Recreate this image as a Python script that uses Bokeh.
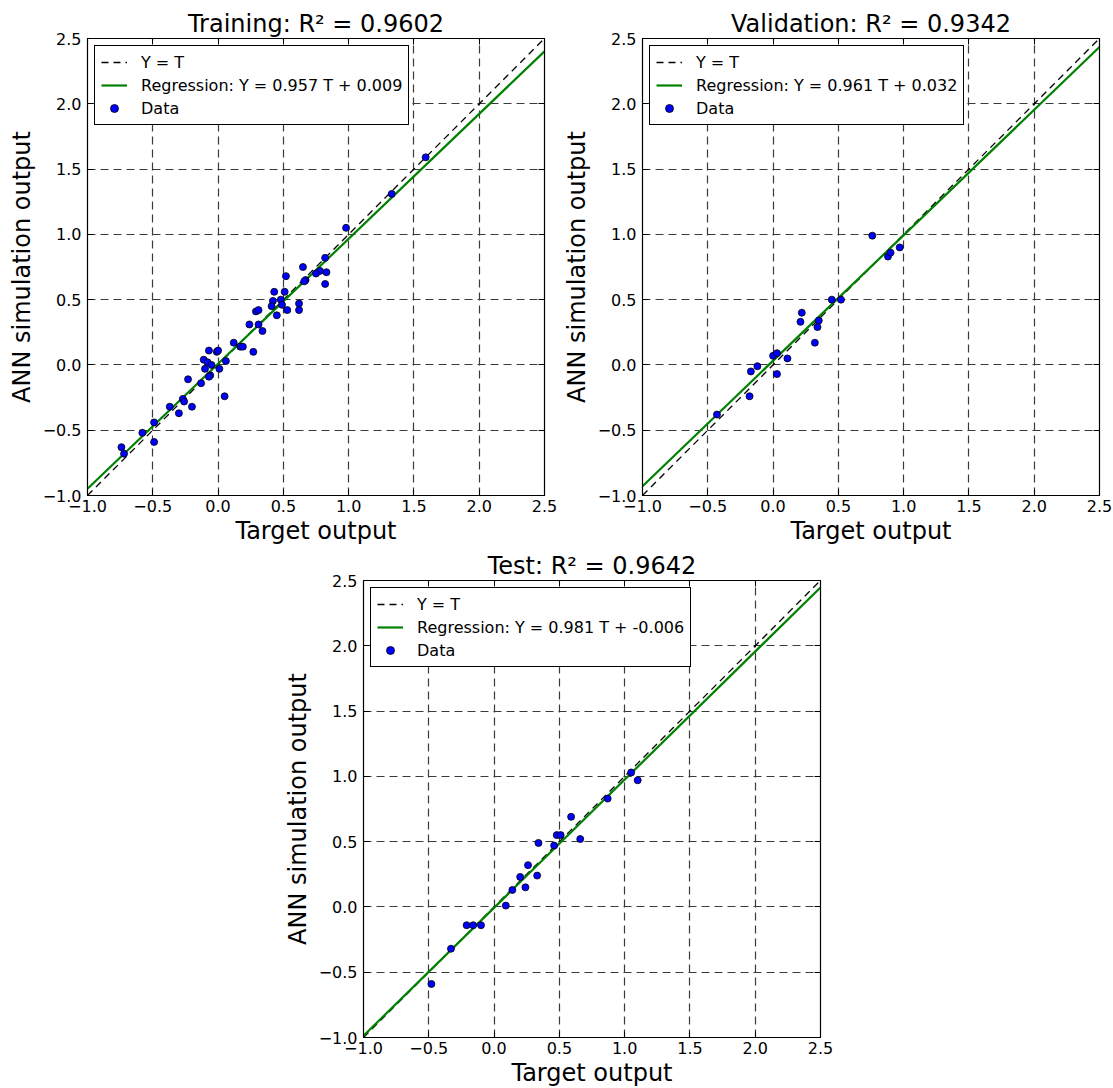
import numpy as np
from bokeh.plotting import figure
from bokeh.models import (LinearAxis, CustomJSTickFormatter, Legend, LegendItem,
                          Spacer, Range1d, FixedTicker)
from bokeh.layouts import column, row
from bokeh.embed import file_html
from bokeh.resources import INLINE

FONT = "DejaVu Sans"
tick_values = [-1.0, -0.5, 0.0, 0.5, 1.0, 1.5, 2.0, 2.5]
axis_min, axis_max = -1.0, 2.5

train_t = [1.59, 1.33, 0.98, 0.82, 0.65, 0.78, 0.75, 0.83, 0.67, 0.66,
           0.82, 0.52, 0.43, 0.51, 0.42, 0.48, 0.41, 0.49, 0.62, 0.62,
           0.53, 0.45, 0.29, 0.31, 0.31, 0.24, 0.34, 0.12, 0.17, 0.19,
           0.27, -0.07, -0.01, 0.00, -0.11, -0.08, -0.05, -0.10, 0.01, 0.06,
           -0.06, -0.07, -0.23, -0.13, 0.05, -0.27, -0.26, -0.20, -0.37, -0.30,
           -0.58, -0.49, -0.49, -0.74, -0.72]
train_y = [1.59, 1.31, 1.05, 0.82, 0.75, 0.72, 0.70, 0.71, 0.65, 0.64,
           0.62, 0.68, 0.56, 0.56, 0.49, 0.50, 0.45, 0.46, 0.47, 0.42,
           0.42, 0.38, 0.41, 0.42, 0.31, 0.31, 0.26, 0.17, 0.14, 0.14,
           0.10, 0.11, 0.10, 0.11, 0.04, 0.02, 0.00, -0.03, -0.03, 0.03,
           -0.08, -0.09, -0.11, -0.14, -0.24, -0.26, -0.28, -0.32, -0.32, -0.37,
           -0.52, -0.44, -0.59, -0.63, -0.68]

val_t = [0.76, 0.97, 0.88, 0.90, 0.45, 0.52, 0.22, 0.21, 0.35, 0.34,
         0.32, 0.00, 0.03, 0.11, -0.12, -0.17, 0.03, -0.18, -0.43]
val_y = [0.99, 0.90, 0.83, 0.86, 0.50, 0.50, 0.40, 0.33, 0.34, 0.29,
         0.17, 0.07, 0.09, 0.05, -0.01, -0.05, -0.07, -0.24, -0.38]

test_t = [1.05, 1.10, 0.87, 0.59, 0.66, 0.48, 0.51, 0.46, 0.34, 0.26,
          0.33, 0.20, 0.24, 0.14, 0.09, -0.21, -0.16, -0.10, -0.33, -0.48]
test_y = [1.03, 0.97, 0.83, 0.69, 0.52, 0.55, 0.55, 0.47, 0.49, 0.32,
          0.24, 0.23, 0.15, 0.13, 0.01, -0.14, -0.14, -0.14, -0.32, -0.59]

titles = ["Training: R\u00b2 = 0.9602", "Validation: R\u00b2 = 0.9342", "Test: R\u00b2 = 0.9642"]
slopes = [0.957, 0.961, 0.981]
intercepts = [0.009, 0.032, -0.006]

minus_fmt = "return tick.toFixed(1).replace('-', '\\u2212');"


def make_panel(title, t, y, slope, intercept, left, right, top, bottom):
    p = figure(frame_width=457, frame_height=457,
               x_range=Range1d(axis_min, axis_max), y_range=Range1d(axis_min, axis_max),
               output_backend="svg", toolbar_location=None,
               min_border_left=left, min_border_right=right,
               min_border_top=top, min_border_bottom=bottom,
               background_fill_color="white", border_fill_color="white")
    p.title.text = title
    p.title.align = "center"
    p.title.text_font = FONT
    p.title.text_font_size = "24px"
    p.title.text_font_style = "normal"
    p.title.text_color = "black"
    p.title.standoff = 2

    p.outline_line_color = "black"
    p.outline_line_width = 1.2
    p.outline_line_alpha = 1

    for g in (p.xgrid, p.ygrid):
        g.ticker = FixedTicker(ticks=tick_values)
        g.grid_line_color = "#3a3a3a"
        g.grid_line_width = 1.2
        g.grid_line_dash = "8 5"

    for ax in (p.xaxis, p.yaxis):
        ax.ticker = FixedTicker(ticks=tick_values)
        ax.formatter = CustomJSTickFormatter(code=minus_fmt)
        ax.major_tick_in = 6
        ax.major_tick_out = 0
        ax.minor_tick_line_color = None
        ax.axis_line_color = "black"
        ax.major_tick_line_color = "black"
        ax.major_label_text_font = FONT
        ax.major_label_text_font_size = "16px"
        ax.major_label_text_color = "black"
        ax.axis_label_text_font = FONT
        ax.axis_label_text_font_size = "24px"
        ax.axis_label_text_font_style = "normal"
        ax.axis_label_text_color = "black"
    p.xaxis.axis_label = "Target output"
    p.yaxis.axis_label = "ANN simulation output"
    p.xaxis.major_label_standoff = 4
    p.xaxis.axis_label_standoff = 2
    p.yaxis.major_label_standoff = 6
    p.yaxis.axis_label_standoff = 4

    for loc in ("above", "right"):
        ax = LinearAxis(ticker=FixedTicker(ticks=tick_values),
                        formatter=CustomJSTickFormatter(code="return '';"),
                        major_tick_in=6, major_tick_out=0,
                        minor_tick_line_color=None, axis_line_color="black",
                        major_label_standoff=0, major_label_text_font_size="1px")
        p.add_layout(ax, loc)

    line_x = np.array([axis_min, axis_max])
    r_id = p.line(line_x, line_x, line_color="black", line_width=1.3, line_dash="7 5")
    r_reg = p.line(line_x, slope * line_x + intercept, line_color="#008000", line_width=2.2)
    r_sc = p.scatter(t, y, size=7, fill_color="#0000ff", line_color="black", line_width=0.8)

    legend = Legend(items=[
        LegendItem(label="Y = T", renderers=[r_id]),
        LegendItem(label=f"Regression: Y = {slope:.3f} T + {intercept:.3f}", renderers=[r_reg]),
        LegendItem(label="Data", renderers=[r_sc]),
    ], location="top_left")
    legend.border_line_color = "black"
    legend.border_line_width = 1
    legend.border_line_alpha = 1
    legend.background_fill_color = "white"
    legend.background_fill_alpha = 1
    legend.label_text_font = FONT
    legend.label_text_font_size = "16px"
    legend.label_text_color = "black"
    legend.glyph_width = 26
    legend.glyph_height = 20
    legend.label_height = 20
    legend.label_standoff = 14
    legend.spacing = 3
    legend.padding = 6
    legend.margin = 7
    p.add_layout(legend)
    return p


p1 = make_panel(titles[0], train_t, train_y, slopes[0], intercepts[0], 87, 15, 38, 50)
p2 = make_panel(titles[1], val_t, val_y, slopes[1], intercepts[1], 79, 17, 38, 50)
p3 = make_panel(titles[2], test_t, test_y, slopes[2], intercepts[2], 87, 20, 33, 53)

layout = column(row(p1, p2), row(Spacer(width=276, height=10), p3))

open("out.html", "w").write(file_html(layout, INLINE))
